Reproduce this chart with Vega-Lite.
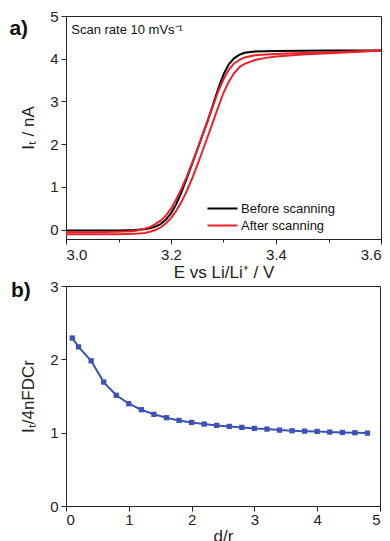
{
  "$schema": "https://vega.github.io/schema/vega-lite/v6.json",
  "padding": {"left": 8, "top": 8, "right": 0, "bottom": 0},
  "spacing": -3,
  "config": {
    "font": "Liberation Sans",
    "view": {"stroke": "#222", "strokeWidth": 1},
    "axis": {"grid": false, "labelFontSize": 15, "titleFontSize": 17, "titleFontWeight": "normal", "labelColor": "#222", "titleColor": "#222", "domainColor": "#222", "tickColor": "#222", "tickSize": 5, "labelPadding": 3},
    "legend": {"labelFontSize": 13, "labelColor": "#111"}
  },
  "datasets": {
    "cv": [
      {"E":3.00,"I":-0.02,"series":"Before scanning","branch":"b1"},
      {"E":3.05,"I":-0.02,"series":"Before scanning","branch":"b1"},
      {"E":3.10,"I":-0.02,"series":"Before scanning","branch":"b1"},
      {"E":3.13,"I":-0.01,"series":"Before scanning","branch":"b1"},
      {"E":3.15,"I":0.01,"series":"Before scanning","branch":"b1"},
      {"E":3.16,"I":0.03,"series":"Before scanning","branch":"b1"},
      {"E":3.17,"I":0.07,"series":"Before scanning","branch":"b1"},
      {"E":3.18,"I":0.13,"series":"Before scanning","branch":"b1"},
      {"E":3.19,"I":0.23,"series":"Before scanning","branch":"b1"},
      {"E":3.20,"I":0.38,"series":"Before scanning","branch":"b1"},
      {"E":3.21,"I":0.60,"series":"Before scanning","branch":"b1"},
      {"E":3.22,"I":0.88,"series":"Before scanning","branch":"b1"},
      {"E":3.23,"I":1.20,"series":"Before scanning","branch":"b1"},
      {"E":3.24,"I":1.53,"series":"Before scanning","branch":"b1"},
      {"E":3.25,"I":1.87,"series":"Before scanning","branch":"b1"},
      {"E":3.26,"I":2.21,"series":"Before scanning","branch":"b1"},
      {"E":3.27,"I":2.55,"series":"Before scanning","branch":"b1"},
      {"E":3.28,"I":2.92,"series":"Before scanning","branch":"b1"},
      {"E":3.29,"I":3.30,"series":"Before scanning","branch":"b1"},
      {"E":3.30,"I":3.63,"series":"Before scanning","branch":"b1"},
      {"E":3.31,"I":3.87,"series":"Before scanning","branch":"b1"},
      {"E":3.32,"I":4.01,"series":"Before scanning","branch":"b1"},
      {"E":3.33,"I":4.09,"series":"Before scanning","branch":"b1"},
      {"E":3.34,"I":4.14,"series":"Before scanning","branch":"b1"},
      {"E":3.36,"I":4.17,"series":"Before scanning","branch":"b1"},
      {"E":3.40,"I":4.18,"series":"Before scanning","branch":"b1"},
      {"E":3.50,"I":4.19,"series":"Before scanning","branch":"b1"},
      {"E":3.60,"I":4.19,"series":"Before scanning","branch":"b1"},
      {"E":3.00,"I":-0.06,"series":"After scanning","branch":"r1"},
      {"E":3.05,"I":-0.06,"series":"After scanning","branch":"r1"},
      {"E":3.10,"I":-0.05,"series":"After scanning","branch":"r1"},
      {"E":3.13,"I":-0.03,"series":"After scanning","branch":"r1"},
      {"E":3.15,"I":0.02,"series":"After scanning","branch":"r1"},
      {"E":3.16,"I":0.06,"series":"After scanning","branch":"r1"},
      {"E":3.17,"I":0.13,"series":"After scanning","branch":"r1"},
      {"E":3.18,"I":0.21,"series":"After scanning","branch":"r1"},
      {"E":3.19,"I":0.32,"series":"After scanning","branch":"r1"},
      {"E":3.20,"I":0.49,"series":"After scanning","branch":"r1"},
      {"E":3.21,"I":0.71,"series":"After scanning","branch":"r1"},
      {"E":3.22,"I":0.96,"series":"After scanning","branch":"r1"},
      {"E":3.23,"I":1.24,"series":"After scanning","branch":"r1"},
      {"E":3.24,"I":1.55,"series":"After scanning","branch":"r1"},
      {"E":3.25,"I":1.88,"series":"After scanning","branch":"r1"},
      {"E":3.26,"I":2.21,"series":"After scanning","branch":"r1"},
      {"E":3.27,"I":2.55,"series":"After scanning","branch":"r1"},
      {"E":3.28,"I":2.90,"series":"After scanning","branch":"r1"},
      {"E":3.29,"I":3.24,"series":"After scanning","branch":"r1"},
      {"E":3.30,"I":3.52,"series":"After scanning","branch":"r1"},
      {"E":3.31,"I":3.74,"series":"After scanning","branch":"r1"},
      {"E":3.32,"I":3.89,"series":"After scanning","branch":"r1"},
      {"E":3.33,"I":3.97,"series":"After scanning","branch":"r1"},
      {"E":3.34,"I":4.03,"series":"After scanning","branch":"r1"},
      {"E":3.36,"I":4.08,"series":"After scanning","branch":"r1"},
      {"E":3.38,"I":4.10,"series":"After scanning","branch":"r1"},
      {"E":3.42,"I":4.12,"series":"After scanning","branch":"r1"},
      {"E":3.50,"I":4.15,"series":"After scanning","branch":"r1"},
      {"E":3.55,"I":4.17,"series":"After scanning","branch":"r1"},
      {"E":3.60,"I":4.19,"series":"After scanning","branch":"r1"},
      {"E":3.00,"I":-0.11,"series":"After scanning","branch":"r2"},
      {"E":3.05,"I":-0.11,"series":"After scanning","branch":"r2"},
      {"E":3.10,"I":-0.11,"series":"After scanning","branch":"r2"},
      {"E":3.13,"I":-0.10,"series":"After scanning","branch":"r2"},
      {"E":3.15,"I":-0.08,"series":"After scanning","branch":"r2"},
      {"E":3.16,"I":-0.05,"series":"After scanning","branch":"r2"},
      {"E":3.17,"I":-0.01,"series":"After scanning","branch":"r2"},
      {"E":3.18,"I":0.05,"series":"After scanning","branch":"r2"},
      {"E":3.19,"I":0.14,"series":"After scanning","branch":"r2"},
      {"E":3.20,"I":0.27,"series":"After scanning","branch":"r2"},
      {"E":3.21,"I":0.44,"series":"After scanning","branch":"r2"},
      {"E":3.22,"I":0.65,"series":"After scanning","branch":"r2"},
      {"E":3.23,"I":0.90,"series":"After scanning","branch":"r2"},
      {"E":3.24,"I":1.19,"series":"After scanning","branch":"r2"},
      {"E":3.25,"I":1.51,"series":"After scanning","branch":"r2"},
      {"E":3.26,"I":1.84,"series":"After scanning","branch":"r2"},
      {"E":3.27,"I":2.18,"series":"After scanning","branch":"r2"},
      {"E":3.28,"I":2.52,"series":"After scanning","branch":"r2"},
      {"E":3.29,"I":2.87,"series":"After scanning","branch":"r2"},
      {"E":3.30,"I":3.20,"series":"After scanning","branch":"r2"},
      {"E":3.31,"I":3.46,"series":"After scanning","branch":"r2"},
      {"E":3.32,"I":3.66,"series":"After scanning","branch":"r2"},
      {"E":3.33,"I":3.80,"series":"After scanning","branch":"r2"},
      {"E":3.34,"I":3.88,"series":"After scanning","branch":"r2"},
      {"E":3.36,"I":3.97,"series":"After scanning","branch":"r2"},
      {"E":3.38,"I":4.02,"series":"After scanning","branch":"r2"},
      {"E":3.40,"I":4.05,"series":"After scanning","branch":"r2"},
      {"E":3.45,"I":4.10,"series":"After scanning","branch":"r2"},
      {"E":3.50,"I":4.13,"series":"After scanning","branch":"r2"},
      {"E":3.55,"I":4.16,"series":"After scanning","branch":"r2"},
      {"E":3.60,"I":4.19,"series":"After scanning","branch":"r2"}
    ],
    "ratio": [
      {"d":0.1,"v":2.29},{"d":0.2,"v":2.17},{"d":0.4,"v":1.98},{"d":0.6,"v":1.69},
      {"d":0.8,"v":1.51},{"d":1.0,"v":1.395},{"d":1.2,"v":1.313},{"d":1.4,"v":1.25},
      {"d":1.6,"v":1.204},{"d":1.8,"v":1.167},{"d":2.0,"v":1.14},{"d":2.2,"v":1.117},
      {"d":2.4,"v":1.099},{"d":2.6,"v":1.085},{"d":2.8,"v":1.072},{"d":3.0,"v":1.058},
      {"d":3.2,"v":1.049},{"d":3.4,"v":1.035},{"d":3.6,"v":1.026},{"d":3.8,"v":1.021},
      {"d":4.0,"v":1.017},{"d":4.2,"v":1.008},{"d":4.4,"v":1.003},{"d":4.6,"v":0.999},
      {"d":4.8,"v":0.994}
    ],
    "labA": [{"E":2.91,"I":4.69,"label":"a)"}],
    "noteA": [{"E":3.01,"I":4.67,"label":"Scan rate 10 mVs⁻¹"}],
    "labB": [{"d":-0.72,"v":2.93,"label":"b)"}]
  },
  "vconcat": [
    {
      "width": 315,
      "height": 223,
      "layer": [
        {
          "data": {"name": "cv"},
          "mark": {"type": "line", "strokeWidth": 2, "clip": true},
          "encoding": {
            "x": {"field": "E", "type": "quantitative", "title": "E vs Li/Li⁺ / V",
              "scale": {"domain": [3.0, 3.6], "nice": false, "zero": false},
              "axis": {"values": [3.0, 3.1, 3.2, 3.3, 3.4, 3.5, 3.6], "titlePadding": 2,
                "labelExpr": "indexof(['3.0','3.2','3.4','3.6'], format(datum.value,'.1f')) >= 0 ? format(datum.value,'.1f') : ''",
                "tickSize": {"condition": {"test": "indexof(['3.0','3.2','3.4','3.6'], format(datum.value,'.1f')) < 0", "value": 3}, "value": 5}}},
            "y": {"field": "I", "type": "quantitative", "title": "Iₜ / nA",
              "scale": {"domain": [-0.22, 5], "nice": false, "zero": false},
              "axis": {"values": [0, 1, 2, 3, 4, 5], "format": "d", "titlePadding": 12}},
            "color": {"field": "series", "type": "nominal",
              "scale": {"domain": ["Before scanning", "After scanning"], "range": ["#000000", "#e8202a"]},
              "legend": {"title": null, "orient": "none", "legendX": 150, "legendY": 186, "symbolType": "M-3,0H3", "symbolSize": 100, "symbolStrokeWidth": 2, "rowPadding": 3, "labelOffset": 12}},
            "detail": {"field": "branch"}
          }
        },
        {
          "data": {"name": "labA"},
          "mark": {"type": "text", "fontSize": 21, "fontWeight": "bold", "align": "center", "baseline": "middle", "color": "#111"},
          "encoding": {
            "x": {"field": "E", "type": "quantitative", "title": "E vs Li/Li⁺ / V"},
            "y": {"field": "I", "type": "quantitative", "title": "Iₜ / nA"},
            "text": {"field": "label"}
          }
        },
        {
          "data": {"name": "noteA"},
          "mark": {"type": "text", "fontSize": 13, "align": "left", "baseline": "middle", "color": "#111"},
          "encoding": {
            "x": {"field": "E", "type": "quantitative", "title": "E vs Li/Li⁺ / V"},
            "y": {"field": "I", "type": "quantitative", "title": "Iₜ / nA"},
            "text": {"field": "label"}
          }
        }
      ]
    },
    {
      "width": 314,
      "height": 220,
      "layer": [
        {
          "data": {"name": "ratio"},
          "mark": {"type": "line", "color": "#3a53b5", "strokeWidth": 2, "point": {"filled": true, "shape": "square", "size": 28, "color": "#3a53b5"}},
          "encoding": {
            "x": {"field": "d", "type": "quantitative", "title": "d/r",
              "scale": {"domain": [0, 5], "nice": false},
              "axis": {"values": [0, 0.5, 1, 1.5, 2, 2.5, 3, 3.5, 4, 4.5, 5], "titlePadding": 1, "labelPadding": 1,
                "labelExpr": "datum.value % 1 == 0 ? format(datum.value, 'd') : ''",
                "tickSize": {"condition": {"test": "datum.value % 1 != 0", "value": 3}, "value": 5}}},
            "y": {"field": "v", "type": "quantitative", "title": "Iₜ/4nFDCr",
              "scale": {"domain": [0, 3], "nice": false},
              "axis": {"values": [0, 1, 2, 3], "format": "d", "titlePadding": 12}}
          }
        },
        {
          "data": {"name": "labB"},
          "mark": {"type": "text", "fontSize": 21, "fontWeight": "bold", "align": "center", "baseline": "middle", "color": "#111"},
          "encoding": {
            "x": {"field": "d", "type": "quantitative", "title": "d/r"},
            "y": {"field": "v", "type": "quantitative", "title": "Iₜ/4nFDCr"},
            "text": {"field": "label"}
          }
        }
      ]
    }
  ]
}
